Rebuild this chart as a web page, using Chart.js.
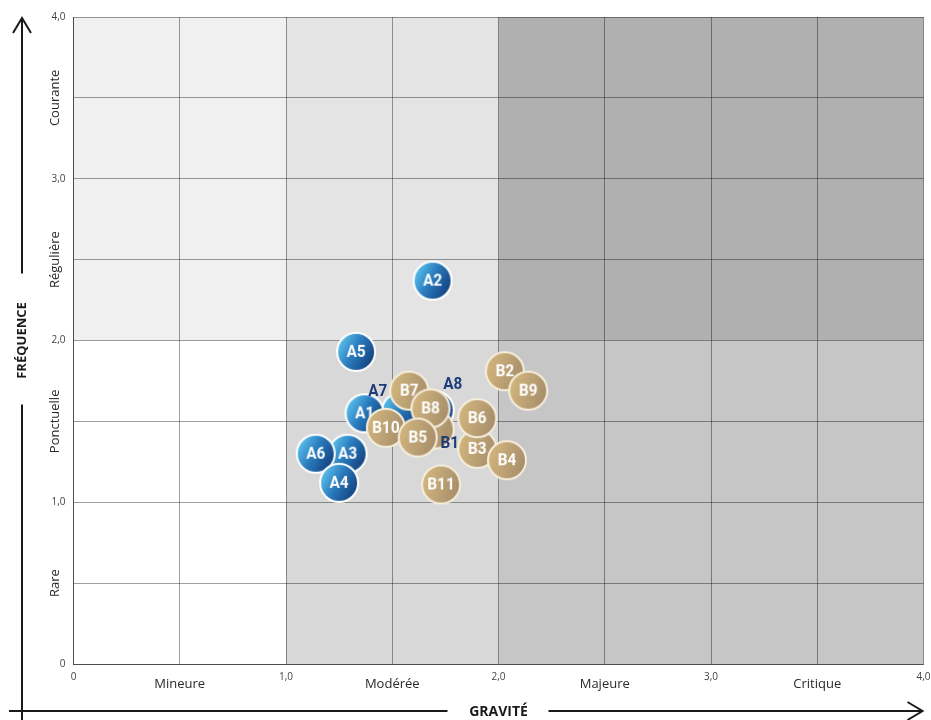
<!DOCTYPE html>
<html><head><meta charset="utf-8">
<script src="https://cdn.jsdelivr.net/npm/chart.js@4.4.1/dist/chart.umd.min.js"></script>
<style>html,body{margin:0;padding:0;background:#fff;overflow:hidden}</style>
</head><body>
<canvas id="c" width="931" height="720" style="display:block;width:931px;height:720px"></canvas>
<script>
// ---- data (drawing order: later entries on top) ----
const seriesALabels = ['A7', 'A8', 'A2', 'A5', 'A3', 'A6', 'A4', 'A1'];
const seriesAX = [1.54, 1.70, 1.69, 1.33, 1.29, 1.14, 1.25, 1.37];
const seriesAY = [1.56, 1.57, 2.37, 1.93, 1.30, 1.30, 1.12, 1.55];
const seriesBLabels = ['B1', 'B3', 'B7', 'B8', 'B10', 'B5', 'B2', 'B9', 'B6', 'B4', 'B11'];
const seriesBX = [1.70, 1.90, 1.58, 1.68, 1.47, 1.62, 2.03, 2.14, 1.90, 2.04, 1.73];
const seriesBY = [1.45, 1.33, 1.69, 1.58, 1.46, 1.40, 1.81, 1.69, 1.52, 1.26, 1.11];
const xTickLabels = ['0', '1,0', '2,0', '3,0', '4,0'];
const yTickLabels = ['0', '1,0', '2,0', '3,0', '4,0'];
const gravityCategories = ['Mineure', 'Modérée', 'Majeure', 'Critique'];
const frequencyCategories = ['Rare', 'Ponctuelle', 'Régulière', 'Courante'];
const outsideLabels = ['A7', 'A8', 'B1'];
const xTitle = 'GRAVITÉ';
const yTitle = 'FRÉQUENCE';

// ---- styles ----
const zones = [
  {x0: 0, x1: 1, y0: 0, y1: 2, color: '#ffffff'},
  {x0: 1, x1: 2, y0: 0, y1: 2, color: '#d8d8d8'},
  {x0: 2, x1: 4, y0: 0, y1: 2, color: '#c6c6c6'},
  {x0: 0, x1: 1, y0: 2, y1: 4, color: '#f0f0f0'},
  {x0: 1, x1: 2, y0: 2, y1: 4, color: '#e4e4e4'},
  {x0: 2, x1: 4, y0: 2, y1: 4, color: '#b0b0b0'}
];
const outsideOffsets = {A7: [-23, -20], A8: [18, -25], B1: [15, 14]};
const BUBBLE_R = 20;

function makeBubble(label, kind, showText) {
  const r = BUBBLE_R - 1, pad = 2, size = 2 * (r + pad);
  const cv = document.createElement('canvas');
  cv.width = size; cv.height = size;
  const g = cv.getContext('2d');
  const c = size / 2;
  let grad;
  if (kind === 'A') {
    grad = g.createLinearGradient(c - r * 0.9, c - r * 0.5, c + r * 0.9, c + r * 0.5);
    grad.addColorStop(0, '#5cc0ec');
    grad.addColorStop(0.45, '#2a7cbe');
    grad.addColorStop(1, '#14407e');
  } else {
    grad = g.createLinearGradient(c - r, c - r * 0.3, c + r, c + r * 0.3);
    grad.addColorStop(0, '#d3b67e');
    grad.addColorStop(1, '#a68d6b');
  }
  g.beginPath(); g.arc(c, c, r, 0, Math.PI * 2);
  g.fillStyle = grad; g.fill();
  g.lineWidth = 2;
  g.strokeStyle = kind === 'A' ? '#ffffff' : '#f6eedb';
  g.stroke();
  if (showText) {
    g.save();
    g.translate(c, c + 1);
    g.scale(0.9, 1);
    g.font = 'bold 17px Roboto';
    g.fillStyle = '#ffffff';
    g.textAlign = 'center';
    g.textBaseline = 'middle';
    g.fillText(label, 0, 0);
    g.restore();
  }
  return cv;
}
const aImages = seriesALabels.map(l => makeBubble(l, 'A', !outsideLabels.includes(l)));
const bImages = seriesBLabels.map(l => makeBubble(l, 'B', !outsideLabels.includes(l)));

const tickFromList = list => v => {
  const k = Math.round(v);
  return Math.abs(v - k) < 1e-9 ? list[k] : '';
};

const zonePlugin = {
  id: 'zones',
  beforeDraw(chart) {
    const {ctx, scales: {x, y}} = chart;
    ctx.save();
    zones.forEach(z => {
      const l = x.getPixelForValue(z.x0), r = x.getPixelForValue(z.x1);
      const t = y.getPixelForValue(z.y1), b = y.getPixelForValue(z.y0);
      ctx.fillStyle = z.color;
      ctx.fillRect(l, t, r - l, b - t);
    });
    ctx.restore();
  }
};

const decoPlugin = {
  id: 'deco',
  afterDraw(chart) {
    const {ctx, chartArea: a, scales: {x, y}} = chart;
    ctx.save();
    // category labels
    ctx.fillStyle = '#2a2a2a';
    ctx.font = '13px "Open Sans"';
    ctx.textAlign = 'center';
    ctx.textBaseline = 'middle';
    gravityCategories.forEach((t, i) => ctx.fillText(t, x.getPixelForValue(i + 0.5), a.bottom + 20));
    frequencyCategories.forEach((t, i) => {
      ctx.save();
      ctx.translate(a.left - 18, y.getPixelForValue(i + 0.5));
      ctx.rotate(-Math.PI / 2);
      ctx.fillText(t, 0, 0);
      ctx.restore();
    });
    // axis arrows
    ctx.strokeStyle = '#1a1a1a';
    ctx.lineWidth = 2;
    const vx = 22, cy = (a.top + a.bottom) / 2;
    ctx.beginPath();
    ctx.moveTo(vx, a.top + 1); ctx.lineTo(vx, cy - 67);
    ctx.moveTo(vx, cy + 64); ctx.lineTo(vx, chart.height);
    ctx.stroke();
    ctx.beginPath();
    ctx.moveTo(vx - 9, a.top + 16); ctx.lineTo(vx, a.top + 1); ctx.lineTo(vx + 9, a.top + 16);
    ctx.stroke();
    const hy = 711, cx = (a.left + a.right) / 2;
    ctx.beginPath();
    ctx.moveTo(9, hy); ctx.lineTo(cx - 51, hy);
    ctx.moveTo(cx + 50, hy); ctx.lineTo(a.right - 1, hy);
    ctx.stroke();
    ctx.beginPath();
    ctx.moveTo(a.right - 16, hy - 9); ctx.lineTo(a.right - 1, hy); ctx.lineTo(a.right - 16, hy + 9);
    ctx.stroke();
    ctx.restore();
  },
  afterDatasetsDraw(chart) {
    const {ctx} = chart;
    ctx.save();
    ctx.fillStyle = '#1d3c78';
    ctx.font = 'bold 17px Roboto';
    ctx.textAlign = 'center';
    ctx.textBaseline = 'middle';
    chart.data.datasets.forEach((ds, di) => {
      const meta = chart.getDatasetMeta(di);
      ds.pointLabels.forEach((lab, i) => {
        if (!outsideLabels.includes(lab)) return;
        const el = meta.data[i];
        const off = outsideOffsets[lab];
        ctx.save();
        ctx.translate(el.x + off[0], el.y + off[1]);
        ctx.scale(0.9, 1);
        ctx.fillText(lab, 0, 0);
        ctx.restore();
      });
    });
    ctx.restore();
  }
};

const gridColor = 'rgba(0,0,0,0.38)';
new Chart(document.getElementById('c'), {
  type: 'bubble',
  data: {
    datasets: [
      {
        label: 'B',
        pointLabels: seriesBLabels,
        data: seriesBX.map((v, i) => ({x: v, y: seriesBY[i]})),
        radius: BUBBLE_R,
        pointStyle: ctx => bImages[ctx.dataIndex],
        order: 1
      },
      {
        label: 'A',
        pointLabels: seriesALabels,
        data: seriesAX.map((v, i) => ({x: v, y: seriesAY[i]})),
        radius: BUBBLE_R,
        pointStyle: ctx => aImages[ctx.dataIndex],
        order: 2
      }
    ]
  },
  options: {
    responsive: false,
    animation: false,
    events: [],
    layout: {autoPadding: false, padding: {top: 17, right: 7.5, left: 0, bottom: 0}},
    plugins: {legend: {display: false}, tooltip: {enabled: false}},
    scales: {
      x: {
        type: 'linear', min: 0, max: 4,
        ticks: {stepSize: 0.5, autoSkip: false, maxRotation: 0, padding: 7.5,
          font: {family: 'Open Sans', size: 10}, color: '#444',
          callback: tickFromList(xTickLabels)},
        grid: {color: gridColor, drawTicks: false},
        border: {color: 'rgba(0,0,0,0.5)'},
        title: {display: true, text: xTitle, color: '#1a1a1a',
          font: {family: 'Open Sans', size: 14, weight: 'bold'}, padding: {top: 1, bottom: 0}},
        afterFit(axis) { axis.height = 56; axis.paddingLeft = 0; axis.paddingRight = 0; }
      },
      y: {
        type: 'linear', min: 0, max: 4,
        ticks: {stepSize: 0.5, autoSkip: false, padding: 8,
          font: {family: 'Open Sans', size: 10}, color: '#444',
          callback: tickFromList(yTickLabels)},
        grid: {color: gridColor, drawTicks: false},
        border: {color: 'rgba(0,0,0,0.5)'},
        title: {display: true, text: yTitle, color: '#1a1a1a',
          font: {family: 'Open Sans', size: 13, weight: 'bold'}, padding: {top: 14, bottom: 0}},
        afterFit(axis) { axis.width = 73.5; axis.paddingTop = 0; axis.paddingBottom = 0; }
      }
    }
  },
  plugins: [zonePlugin, decoPlugin]
});
</script>
</body></html>
